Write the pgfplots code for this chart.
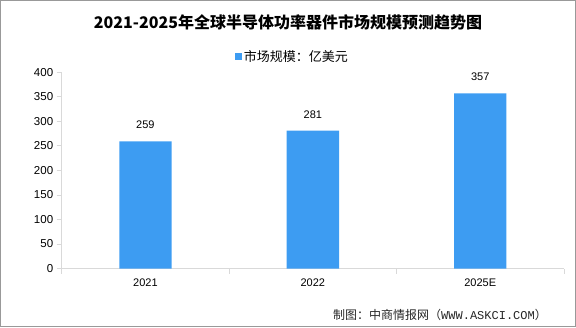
\documentclass[border=0pt]{standalone}
\usepackage{fontspec}
\setmainfont{Liberation Sans}
\newfontfamily\cjk{Noto Sans CJK SC}
\newfontfamily\mono{Liberation Mono}
\usepackage{pgfplots}
\pgfplotsset{compat=1.18}
\definecolor{barblue}{HTML}{3D9CF2}
\definecolor{axgray}{HTML}{D9D9D9}
\begin{document}
\begin{tikzpicture}[x=1pt,y=1pt]
\useasboundingbox (0,0) rectangle (576,327);
\draw[gray!80, line width=1pt] (0.5,0.5) rectangle (575.5,326.5);
\node[font=\cjk\bfseries\fontsize{16}{16}\selectfont] at (288,305) {2021-2025年全球半导体功率器件市场规模预测趋势图};
\node[anchor=west, inner sep=0pt, font=\cjk\fontsize{12}{12}\selectfont, text=black!85] at (333,12) {制图：中商情报网（{\mono WWW.ASKCI.COM}）};
\begin{axis}[
  at={(61.7pt,58.5pt)}, anchor=south west,
  scale only axis, width=502.3pt, height=196.2pt,
  xmin=-0.5, xmax=2.5, ymin=0, ymax=400,
  axis x line*=bottom, axis y line*=left,
  axis line style={axgray, line width=0.8pt, -},
  xtick={0,1,2}, xticklabels={2021,2022,2025E},
  major x tick style={draw=none},
  minor xtick={-0.5,0.5,1.5,2.5},
  minor x tick style={axgray, line width=0.8pt},
  minor tick length=5pt,
  ytick={0,50,...,400},
  y tick style={axgray, line width=0.8pt},
  major tick length=5pt,
  tick align=outside,
  /pgf/number format/assume math mode=true,
  xticklabel style={font=\fontsize{11}{11}\selectfont, yshift=-1.5pt},
  yticklabel style={font=\fontsize{11.5}{11.5}\selectfont},
  legend style={at={(0.459,1.078)}, anchor=center, draw=none, fill=none,
    font=\cjk\fontsize{13}{13}\selectfont, legend columns=1},
  legend image code/.code={\fill[barblue] (0pt,-3.5pt) rectangle (7pt,3.5pt);},
  clip=false,
]
\addplot[ybar, bar width=52.3pt, fill=barblue, draw=none,
  nodes near coords,
  every node near coord/.append style={anchor=center, yshift=16.4pt, font=\fontsize{11}{11}\selectfont, text=black}]
  coordinates {(0,259) (1,281) (2,357)};
\addlegendentry{市场规模：亿美元}
\end{axis}
\end{tikzpicture}
\end{document}
